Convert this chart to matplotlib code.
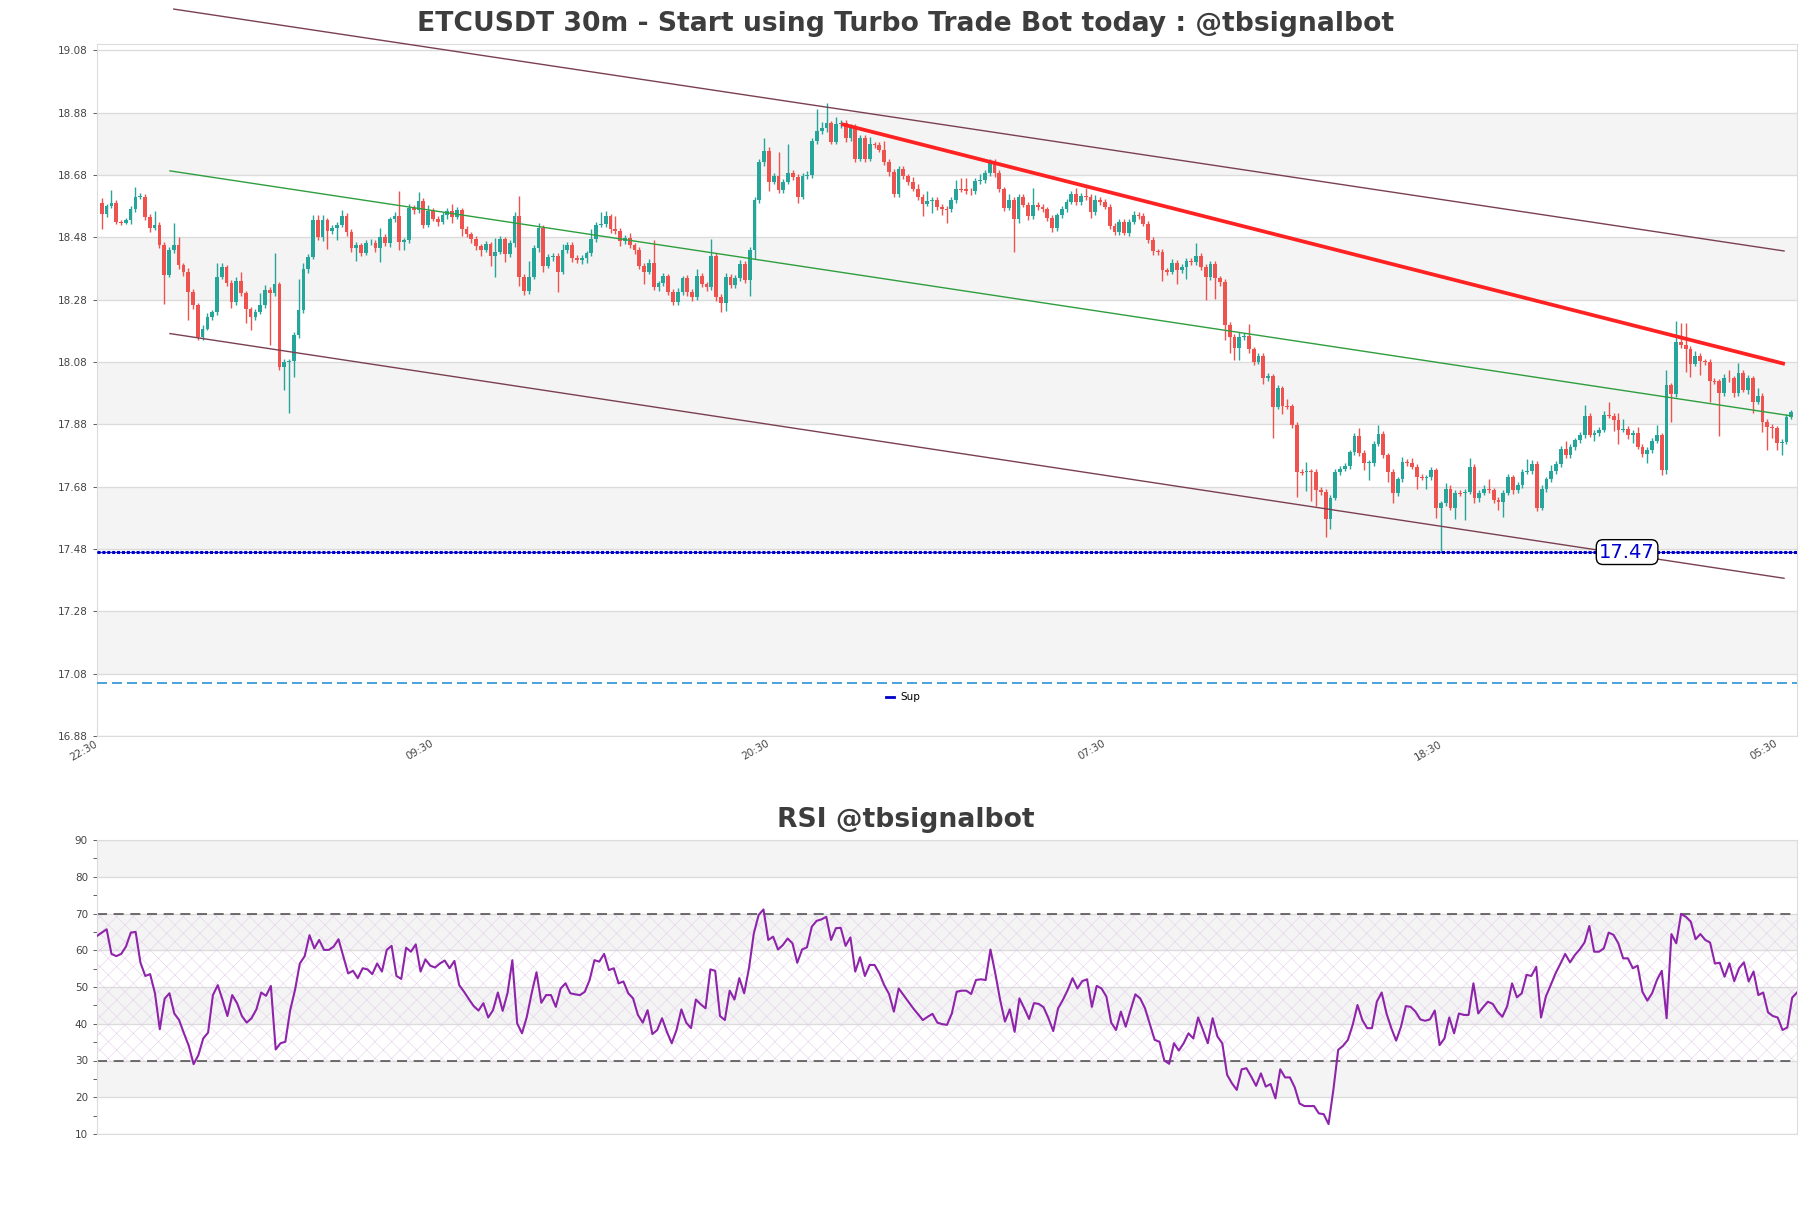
import numpy as np
import matplotlib
matplotlib.use('Agg')
import matplotlib.pyplot as plt
from matplotlib.lines import Line2D

plt.rcParams['font.family'] = ['DejaVu Sans']
plt.rcParams['hatch.linewidth'] = 0.35

# Cierres de las velas de 30m
first_open = 18.59
closes = [
    18.556, 18.58, 18.59, 18.53, 18.527, 18.535, 18.57, 18.61, 18.61, 18.545,
    18.51, 18.52, 18.456, 18.36, 18.44, 18.456, 18.39, 18.37, 18.305, 18.262,
    18.16, 18.187, 18.225, 18.24, 18.353, 18.383, 18.333, 18.272, 18.34, 18.30,
    18.25, 18.224, 18.24, 18.262, 18.312, 18.30, 18.33, 18.064, 18.08, 18.083,
    18.165, 18.246, 18.377, 18.417, 18.535, 18.48, 18.535, 18.50, 18.51, 18.52,
    18.547, 18.497, 18.444, 18.455, 18.43, 18.46, 18.463, 18.444, 18.48, 18.46,
    18.537, 18.547, 18.465, 18.47, 18.575, 18.566, 18.596, 18.52, 18.565, 18.54,
    18.53, 18.55, 18.565, 18.545, 18.566, 18.507, 18.49, 18.473, 18.452, 18.44,
    18.457, 18.42, 18.433, 18.473, 18.425, 18.46, 18.547, 18.353, 18.308, 18.353,
    18.444, 18.51, 18.388, 18.417, 18.42, 18.37, 18.44, 18.456, 18.414, 18.406,
    18.414, 18.428, 18.475, 18.52, 18.522, 18.547, 18.507, 18.50, 18.468, 18.479,
    18.455, 18.438, 18.388, 18.37, 18.399, 18.32, 18.333, 18.355, 18.305, 18.272,
    18.305, 18.348, 18.305, 18.287, 18.355, 18.33, 18.32, 18.42, 18.288, 18.27,
    18.353, 18.326, 18.35, 18.395, 18.344, 18.44, 18.60, 18.72, 18.757, 18.658,
    18.676, 18.633, 18.658, 18.686, 18.674, 18.61, 18.676, 18.679, 18.79, 18.82,
    18.829, 18.845, 18.786, 18.842, 18.845, 18.797, 18.834, 18.732, 18.797, 18.732,
    18.778, 18.775, 18.76, 18.722, 18.69, 18.62, 18.70, 18.676, 18.658, 18.636,
    18.61, 18.588, 18.597, 18.60, 18.577, 18.572, 18.57, 18.60, 18.635, 18.634,
    18.63, 18.628, 18.66, 18.663, 18.686, 18.722, 18.686, 18.634, 18.575, 18.60,
    18.537, 18.61, 18.584, 18.548, 18.584, 18.578, 18.57, 18.543, 18.51, 18.55,
    18.57, 18.594, 18.618, 18.594, 18.613, 18.608, 18.56, 18.60, 18.594, 18.578,
    18.517, 18.497, 18.53, 18.494, 18.53, 18.553, 18.547, 18.524, 18.47, 18.435,
    18.433, 18.374, 18.37, 18.399, 18.374, 18.385, 18.404, 18.40, 18.42, 18.385,
    18.353, 18.395, 18.348, 18.335, 18.20, 18.16, 18.126, 18.16, 18.162, 18.12,
    18.08, 18.10, 18.03, 18.034, 17.936, 17.995, 17.94, 17.938, 17.877, 17.728,
    17.727, 17.73, 17.728, 17.67, 17.664, 17.575, 17.645, 17.728, 17.738, 17.746,
    17.79, 17.843, 17.789, 17.755, 17.757, 17.818, 17.85, 17.781, 17.728, 17.66,
    17.703, 17.76, 17.757, 17.744, 17.71, 17.709, 17.71, 17.733, 17.61, 17.626,
    17.674, 17.613, 17.66, 17.659, 17.664, 17.742, 17.642, 17.66, 17.674, 17.669,
    17.637, 17.631, 17.66, 17.71, 17.669, 17.685, 17.728, 17.73, 17.754, 17.613,
    17.674, 17.703, 17.73, 17.752, 17.802, 17.78, 17.807, 17.829, 17.846, 17.907,
    17.846, 17.852, 17.863, 17.91, 17.908, 17.893, 17.863, 17.866, 17.845, 17.852,
    17.808, 17.786, 17.797, 17.827, 17.845, 17.733, 18.005, 17.977, 18.145, 18.134,
    18.123, 18.075, 18.10, 18.083, 18.08, 18.02, 18.018, 17.98, 18.03, 18.027,
    17.98, 18.046, 17.99, 18.027, 17.952, 17.97, 17.888, 17.87, 17.867, 17.82,
    17.824, 17.904, 17.92,
]

# Mechas por encima / por debajo del cuerpo (milesimas)
wick_up = [
    16, 8, 43, 10, 6, 8, 10, 30, 12, 8,
    10, 45, 10, 8, 10, 70, 25, 6, 10, 8,
    6, 10, 12, 8, 43, 15, 8, 10, 12, 30,
    8, 6, 10, 40, 15, 10, 100, 8, 10, 8,
    10, 100, 20, 10, 15, 16, 16, 8, 10, 8,
    22, 10, 8, 10, 8, 12, 10, 8, 30, 10,
    8, 14, 80, 8, 12, 8, 28, 10, 18, 10,
    8, 10, 8, 22, 12, 8, 10, 8, 10, 6,
    12, 8, 45, 10, 8, 12, 15, 66, 8, 50,
    10, 17, 8, 10, 8, 10, 18, 8, 10, 8,
    10, 8, 30, 10, 40, 16, 8, 40, 10, 8,
    15, 8, 10, 8, 12, 72, 8, 10, 8, 10,
    12, 8, 10, 8, 22, 10, 8, 56, 8, 10,
    12, 8, 10, 12, 8, 10, 8, 12, 43, 14,
    10, 78, 8, 94, 10, 8, 10, 12, 10, 73,
    20, 66, 8, 24, 10, 12, 10, 8, 12, 12,
    25, 8, 10, 28, 8, 10, 8, 10, 8, 16,
    15, 8, 30, 10, 8, 10, 8, 10, 28, 34,
    37, 8, 10, 20, 10, 10, 8, 10, 8, 18,
    8, 8, 10, 8, 53, 8, 10, 8, 10, 8,
    10, 8, 10, 20, 8, 25, 10, 16, 8, 10,
    8, 10, 8, 10, 8, 10, 8, 10, 8, 10,
    8, 10, 8, 10, 8, 10, 8, 10, 42, 8,
    10, 8, 10, 8, 10, 8, 10, 16, 10, 40,
    8, 10, 8, 10, 8, 10, 8, 22, 8, 10,
    8, 30, 8, 10, 8, 10, 8, 10, 8, 10,
    8, 10, 25, 8, 10, 8, 27, 10, 8, 10,
    8, 16, 10, 14, 8, 10, 8, 10, 8, 8,
    18, 10, 8, 10, 8, 31, 10, 8, 10, 30,
    8, 10, 8, 10, 8, 10, 8, 40, 10, 8,
    10, 8, 20, 10, 8, 25, 10, 8, 10, 34,
    8, 10, 8, 12, 40, 8, 22, 30, 8, 10,
    20, 8, 10, 8, 32, 8, 50, 8, 66, 60,
    70, 8, 14, 10, 8, 10, 8, 8, 10, 25,
    8, 30, 8, 10, 8, 28, 10, 8, 10, 8,
    10, 10, 6,
]
wick_dn = [
    50, 10, 6, 8, 8, 6, 12, 8, 6, 10,
    14, 8, 12, 93, 6, 10, 12, 14, 90, 12,
    10, 8, 6, 10, 8, 8, 10, 18, 8, 10,
    45, 40, 8, 6, 10, 165, 10, 10, 75, 164,
    50, 8, 10, 12, 8, 10, 12, 57, 8, 40,
    8, 12, 10, 40, 10, 8, 6, 12, 43, 8,
    10, 8, 25, 25, 8, 10, 8, 10, 8, 8,
    14, 8, 10, 18, 6, 22, 8, 10, 12, 20,
    8, 32, 67, 8, 25, 8, 10, 30, 14, 10,
    8, 10, 20, 8, 12, 67, 8, 10, 12, 8,
    12, 15, 8, 10, 8, 10, 12, 8, 15, 10,
    8, 12, 10, 40, 8, 10, 12, 8, 10, 10,
    8, 10, 12, 12, 8, 10, 12, 10, 12, 30,
    28, 10, 8, 10, 10, 53, 30, 10, 10, 28,
    8, 12, 12, 8, 10, 20, 8, 10, 8, 10,
    8, 10, 6, 8, 10, 10, 8, 10, 8, 10,
    8, 10, 8, 10, 12, 10, 10, 8, 10, 8,
    10, 40, 8, 40, 10, 22, 43, 8, 10, 8,
    10, 12, 8, 10, 8, 10, 12, 10, 12, 8,
    104, 10, 8, 12, 10, 10, 8, 10, 12, 10,
    8, 10, 8, 10, 10, 8, 18, 8, 10, 8,
    12, 10, 10, 8, 10, 8, 10, 8, 10, 12,
    10, 34, 10, 8, 43, 8, 40, 8, 10, 10,
    73, 10, 67, 10, 50, 50, 40, 40, 8, 10,
    10, 8, 20, 12, 100, 8, 27, 8, 10, 80,
    10, 60, 95, 53, 10, 55, 30, 8, 10, 8,
    10, 8, 10, 22, 53, 10, 8, 10, 32, 34,
    10, 8, 10, 8, 38, 8, 38, 8, 32, 140,
    8, 8, 38, 8, 85, 8, 15, 10, 8, 10,
    10, 25, 48, 8, 12, 8, 10, 8, 8, 10,
    8, 10, 8, 8, 10, 8, 8, 10, 8, 10,
    8, 20, 10, 8, 8, 35, 45, 8, 12, 25,
    8, 10, 30, 10, 8, 16, 12, 89, 8, 10,
    75, 42, 8, 45, 10, 67, 10, 138, 10, 10,
    12, 8, 8, 12, 35, 8, 32, 73, 30, 24,
    40, 8, 8,
]

rsi = [
    63.9, 64.8, 65.7, 59.0, 58.4, 59.0, 61.0, 64.8, 65.0, 56.6,
    53.0, 53.5, 48.3, 38.5, 46.8, 48.3, 42.8, 41.0, 37.4, 34.0,
    29.0, 31.5, 36.0, 37.6, 47.8, 50.5, 46.5, 42.1, 47.8, 45.6,
    42.1, 40.3, 41.5, 43.9, 48.5, 47.6, 50.3, 33.0, 34.7, 35.1,
    43.7, 49.2, 56.4, 58.4, 64.1, 60.5, 62.8, 60.1, 60.1, 61.0,
    63.0, 58.3, 53.7, 54.4, 52.4, 55.1, 54.8, 53.5, 56.4, 54.2,
    60.1, 61.2, 53.0, 52.2, 60.7, 59.6, 61.6, 54.2, 57.5, 55.8,
    55.3, 56.4, 57.2, 55.1, 57.1, 50.5, 48.7, 46.7, 44.8, 43.6,
    45.6, 41.7, 43.7, 48.5, 43.5, 48.3, 57.3, 40.1, 37.4, 41.9,
    48.3, 54.0, 45.7, 47.8, 47.8, 44.6, 49.6, 51.0, 48.3, 48.0,
    47.8, 48.7, 51.9, 57.3, 56.9, 59.0, 54.6, 55.1, 51.0, 51.5,
    48.3, 46.9, 42.4, 40.3, 43.7, 37.2, 38.3, 41.5, 37.8, 34.7,
    38.3, 43.9, 40.3, 38.8, 46.6, 45.3, 44.2, 54.8, 54.4, 42.1,
    41.0, 49.0, 46.6, 52.4, 48.3, 55.1, 64.6, 69.6, 71.1, 62.8,
    63.7, 60.2, 61.4, 63.2, 61.9, 56.6, 60.2, 60.8, 66.4, 68.0,
    68.4, 69.1, 62.8, 66.0, 66.1, 61.2, 63.5, 54.2, 58.1, 53.0,
    56.0, 56.0, 53.7, 50.5, 48.1, 43.3, 49.6, 47.8, 46.0, 44.2,
    42.6, 41.0, 41.9, 42.7, 40.3, 39.9, 39.7, 42.8, 48.7, 49.0,
    49.0, 48.1, 51.9, 52.1, 51.9, 60.2, 53.7, 46.5, 40.6, 43.9,
    37.8, 46.9, 44.2, 41.3, 45.6, 45.4, 44.5, 41.5, 38.0, 44.2,
    46.5, 49.2, 52.4, 49.6, 51.6, 52.1, 44.6, 50.3, 49.6, 47.4,
    40.3, 38.3, 43.3, 39.2, 43.7, 48.0, 46.9, 44.2, 39.9, 35.6,
    35.1, 30.0, 29.1, 34.7, 32.7, 34.7, 37.4, 36.0, 41.7, 38.3,
    34.7, 41.5, 36.5, 34.7, 26.1, 23.8, 22.0, 27.6, 27.9, 25.6,
    23.1, 26.5, 22.9, 23.6, 19.7, 27.6, 25.4, 25.4, 22.7, 18.3,
    17.6, 17.6, 17.6, 15.6, 15.4, 12.7, 22.0, 32.9, 34.0, 35.6,
    39.7, 45.1, 41.0, 38.8, 38.8, 46.0, 48.5, 42.8, 38.8, 35.4,
    39.2, 44.8, 44.6, 43.3, 41.2, 40.8, 41.2, 43.6, 34.2, 36.0,
    41.7, 37.4, 42.8, 42.4, 42.4, 51.0, 42.8, 44.5, 46.0, 45.4,
    43.3, 41.9, 44.8, 51.0, 47.2, 48.3, 53.3, 53.0, 55.5, 41.7,
    47.4, 50.5, 53.7, 56.3, 59.0, 56.7, 58.7, 60.2, 62.1, 66.6,
    59.6, 59.6, 60.5, 64.8, 64.2, 61.9, 57.8, 57.8, 55.1, 55.8,
    48.7, 46.3, 48.3, 51.9, 54.4, 41.5, 64.4, 61.9, 69.9, 69.1,
    67.8, 63.0, 64.4, 62.8, 62.1, 56.4, 56.6, 52.8, 56.4, 51.6,
    55.1, 56.7, 51.5, 54.2, 47.8, 48.5, 43.1, 42.1, 41.7, 38.3,
    39.0, 47.1, 48.5,
]

tick_pos = [-1, 69, 139, 209, 279, 349]
tick_labels = ['22:30', '09:30', '20:30', '07:30', '18:30', '05:30']
price_ticks = [16.88, 17.08, 17.28, 17.48, 17.68, 17.88, 18.08, 18.28, 18.48, 18.68, 18.88, 19.08]

# Canal de regresion y lineas de tendencia (indice de vela, precio)
chan_upper = ([15.0, 350.5], [19.212, 18.436])
chan_mid = ([14.2, 352.0], [18.693, 17.907])
chan_lower = ([14.2, 350.5], [18.171, 17.386])
red_trend = ([154.4, 350.3], [18.842, 18.075])
support = 17.47
support_label_x = 317.8
lower_dash = 17.05

closes = np.array(closes)
opens = np.concatenate([[first_open], closes[:-1]])
highs = np.maximum(opens, closes) + np.array(wick_up) / 1000
lows = np.minimum(opens, closes) - np.array(wick_dn) / 1000
x = np.arange(len(closes))

GREEN = '#26a69a'
RED = '#ef5350'
BAND = '#f4f4f4'
GRID = '#dcdcdc'

fig = plt.figure(figsize=(18.11, 12.08), dpi=100)
ax = fig.add_axes([97 / 1811, 1 - 736 / 1208, 1700 / 1811, 692 / 1208])
ax2 = fig.add_axes([97 / 1811, 1 - 1134 / 1208, 1700 / 1811, 294 / 1208])

# Panel de precio
ax.set_xlim(-1, 353.2)
ax.set_ylim(16.88, 19.10)
for lo in [17.08, 17.48, 17.88, 18.28, 18.68]:
    ax.axhspan(lo, lo + 0.2, color=BAND, zorder=0, lw=0)
for t in price_ticks:
    ax.axhline(t, color=GRID, lw=1, zorder=0.5)

up = closes >= opens
cols = np.where(up, GREEN, RED)
body = closes - opens
body = np.where(np.abs(body) < 0.003, np.where(up, 0.003, -0.003), body)
ax.vlines(x, lows, highs, colors=cols, lw=1, zorder=3)
ax.bar(x, body, bottom=opens, width=0.78, color=cols, lw=0, zorder=4)

ax.plot(*chan_upper, color='#7a4050', lw=1, zorder=5, clip_on=False)
ax.plot(*chan_lower, color='#7a4050', lw=1, zorder=5)
ax.plot(*chan_mid, color='#2e9e3e', lw=1, zorder=5)
ax.plot(*red_trend, color='#ff2222', lw=2.7, zorder=6)

ax.axhline(support, color='#3030d0', lw=0.8, zorder=6)
ax.axhline(support, color='#0000c8', lw=2.2, ls=(0, (1, 0.6)), zorder=6)
ax.axhline(lower_dash, color='#2a94d6', lw=1.2, ls=(0, (6, 3)), zorder=6)
ax.text(support_label_x, support, '17.47', color='#0000cc', fontsize=14,
        ha='center', va='center', zorder=8,
        bbox=dict(boxstyle='round,pad=0.15,rounding_size=0.35', fc='white', ec='black', lw=1))

ax.legend([Line2D([0], [0], color='#0000c8', lw=2)], ['Sup'], loc='center',
          bbox_to_anchor=(0.474, 0.056), frameon=False, fontsize=7.5,
          handlelength=0.8, handletextpad=0.6)

ax.set_yticks(price_ticks)
ax.set_yticklabels([f'{t:.2f}' for t in price_ticks])
ax.set_xticks(tick_pos)
ax.set_xticklabels(tick_labels, rotation=30, ha='right', va='center', rotation_mode='anchor')
ax.tick_params(axis='both', labelsize=7.5, colors='#444444', length=3, width=0.6)
ax.tick_params(axis='x', length=0, pad=5)
for s in ax.spines.values():
    s.set_color(GRID)

# Panel RSI
n = len(rsi)
ax2.set_xlim(0, n - 1)
ax2.set_ylim(10, 90)
for lo in [20, 40, 60, 80]:
    ax2.axhspan(lo, lo + 10, color=BAND, zorder=0, lw=0)
for t in range(10, 91, 10):
    ax2.axhline(t, color=GRID, lw=1, zorder=0.5)
ax2.fill_between([0, n - 1], 30, 70, facecolor='none', edgecolor='#e2cce8',
                 hatch='xx', lw=0, zorder=1)
ax2.axhline(70, color='#555555', lw=1.2, ls=(0, (6, 4)), zorder=2)
ax2.axhline(30, color='#555555', lw=1.2, ls=(0, (6, 4)), zorder=2)
ax2.plot(np.arange(n), rsi, color='#8e24aa', lw=1.5, zorder=3)
ax2.set_yticks(range(10, 91, 10))
ax2.set_yticks(range(15, 90, 10), minor=True)
ax2.set_xticks([])
ax2.tick_params(axis='y', which='both', labelsize=7.5, colors='#444444', length=3, width=0.6)
for s in ax2.spines.values():
    s.set_color(GRID)

fig.text(0.5, 1 - 24 / 1208, 'ETCUSDT 30m - Start using Turbo Trade Bot today : @tbsignalbot',
         ha='center', va='center', fontsize=19.2, fontweight='bold', color='#3d3d3d')
fig.text(0.5, 1 - 820 / 1208, 'RSI @tbsignalbot',
         ha='center', va='center', fontsize=19.2, fontweight='bold', color='#3d3d3d')

fig.savefig('out.png', dpi=100)
